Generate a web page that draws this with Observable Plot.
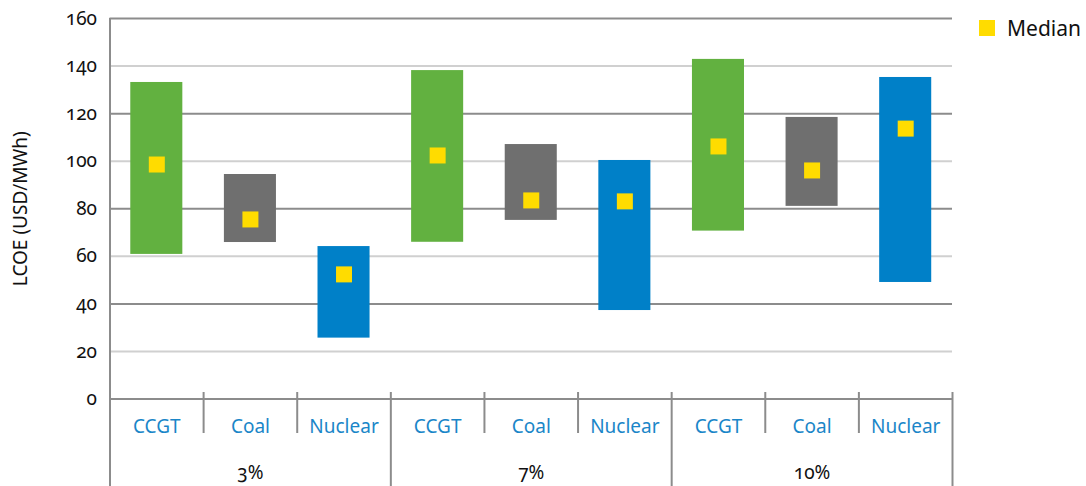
<!DOCTYPE html>
<html><head><meta charset="utf-8">
<script src="https://cdn.jsdelivr.net/npm/d3@7"></script>
<script src="https://cdn.jsdelivr.net/npm/@observablehq/plot@0.6"></script>
<style>
html,body{margin:0;padding:0;background:#fff;}
#wrap{position:relative;width:1086px;height:486px;overflow:hidden;font-family:"Noto Sans",sans-serif;}
#legend{position:absolute;left:979px;top:14px;display:flex;align-items:center;font-size:21px;color:#111;}
#legend span.sw{display:inline-block;width:16px;height:16px;background:#ffdc00;margin-right:12px;}
</style></head>
<body><div id="wrap"><div id="legend"><span class="sw"></span><span>Median</span></div></div>
<script>
const groups = ["3%", "7%", "10%"];
const techs = ["CCGT", "Coal", "Nuclear"];
const minVals = [60.8, 65.8, 25.6, 65.9, 75.1, 37.2, 70.6, 81.0, 49.0];
const maxVals = [133.1, 94.4, 64.1, 138.1, 107.0, 100.3, 142.8, 118.4, 135.2];
const medVals = [98.6, 75.5, 52.4, 102.4, 83.5, 83.1, 106.2, 96.1, 113.7];
const yTicks = [0, 20, 40, 60, 80, 100, 120, 140, 160];
const techColors = ["#62b140", "#6f6f6f", "#0080c8"];

const data = [];
groups.forEach((g, gi) => techs.forEach((t, ti) => {
  const k = gi * techs.length + ti;
  data.push({group: g, tech: t, idx: k, min: minVals[k], max: maxVals[k], med: medVals[k]});
}));
const groupData = groups.map((g, gi) => ({group: g, idx: gi * techs.length}));
const techEdges = data.filter(d => d.idx % techs.length !== 0).map(d => d.idx);
const groupEdges = groupData.map(d => d.idx).concat([data.length]);

const W = 1086, H = 486, mL = 109.5, mR = 134, mT = 18, mB = 87.5;
const bandPx = (W - mL - mR) / data.length;
const inset = bandPx * 0.222;

const chart = Plot.plot({
  width: W, height: H,
  marginLeft: mL, marginRight: mR, marginTop: mT, marginBottom: mB,
  style: {fontFamily: "Noto Sans, sans-serif", fontSize: "19px", color: "#111", overflow: "visible", background: "white"},
  x: {domain: [0, data.length], axis: null},
  y: {domain: [0, 160], axis: null},
  color: {domain: techs, range: techColors},
  marks: [
    Plot.ruleY(yTicks.filter(v => v > 0 && v % 40 !== 0), {stroke: "#d0d0d0", strokeWidth: 2}),
    Plot.ruleY(yTicks.filter(v => v > 0 && v % 40 === 0), {stroke: "#8c8c8c", strokeWidth: 2}),
    Plot.ruleY([0], {stroke: "#8c8c8c", strokeWidth: 2}),
    Plot.axisY({ticks: yTicks, tickSize: 0, tickPadding: 13, fontSize: 19, fill: "#111", fontVariant: "oldstyle-nums"}),
    Plot.text(["LCOE (USD/MWh)"], {frameAnchor: "left", textAnchor: "middle", rotate: -90, dx: -89, fontSize: 19, fill: "#111"}),
    Plot.ruleX([0], {stroke: "#8c8c8c", strokeWidth: 2, insetBottom: -mB}),
    Plot.ruleX(techEdges, {x: d => d, stroke: "#8c8c8c", strokeWidth: 2, insetTop: 374, insetBottom: -34.5}),
    Plot.ruleX(groupEdges.filter(v => v > 0), {x: d => d, stroke: "#8c8c8c", strokeWidth: 2, insetTop: 374, insetBottom: -mB}),
    Plot.rect(data, {x1: d => d.idx, x2: d => d.idx + 1, y1: "min", y2: "max", fill: "tech", insetLeft: inset, insetRight: inset}),
    Plot.dot(data, {x: d => d.idx + 0.5, y: "med", symbol: "square", r: 16 / Math.sqrt(Math.PI), fill: "#ffdc00", stroke: null}),
    Plot.text(data, {x: d => d.idx + 0.5, y: () => 0, text: "tech", dy: 28, fill: "#1a86c8", fontSize: 19}),
    Plot.text(groupData, {x: d => d.idx + techs.length / 2, y: () => 0, text: "group", dy: 74, fill: "#111", fontSize: 19, fontVariant: "oldstyle-nums"})
  ]
});
document.getElementById("wrap").prepend(chart);
</script>
</body></html>
